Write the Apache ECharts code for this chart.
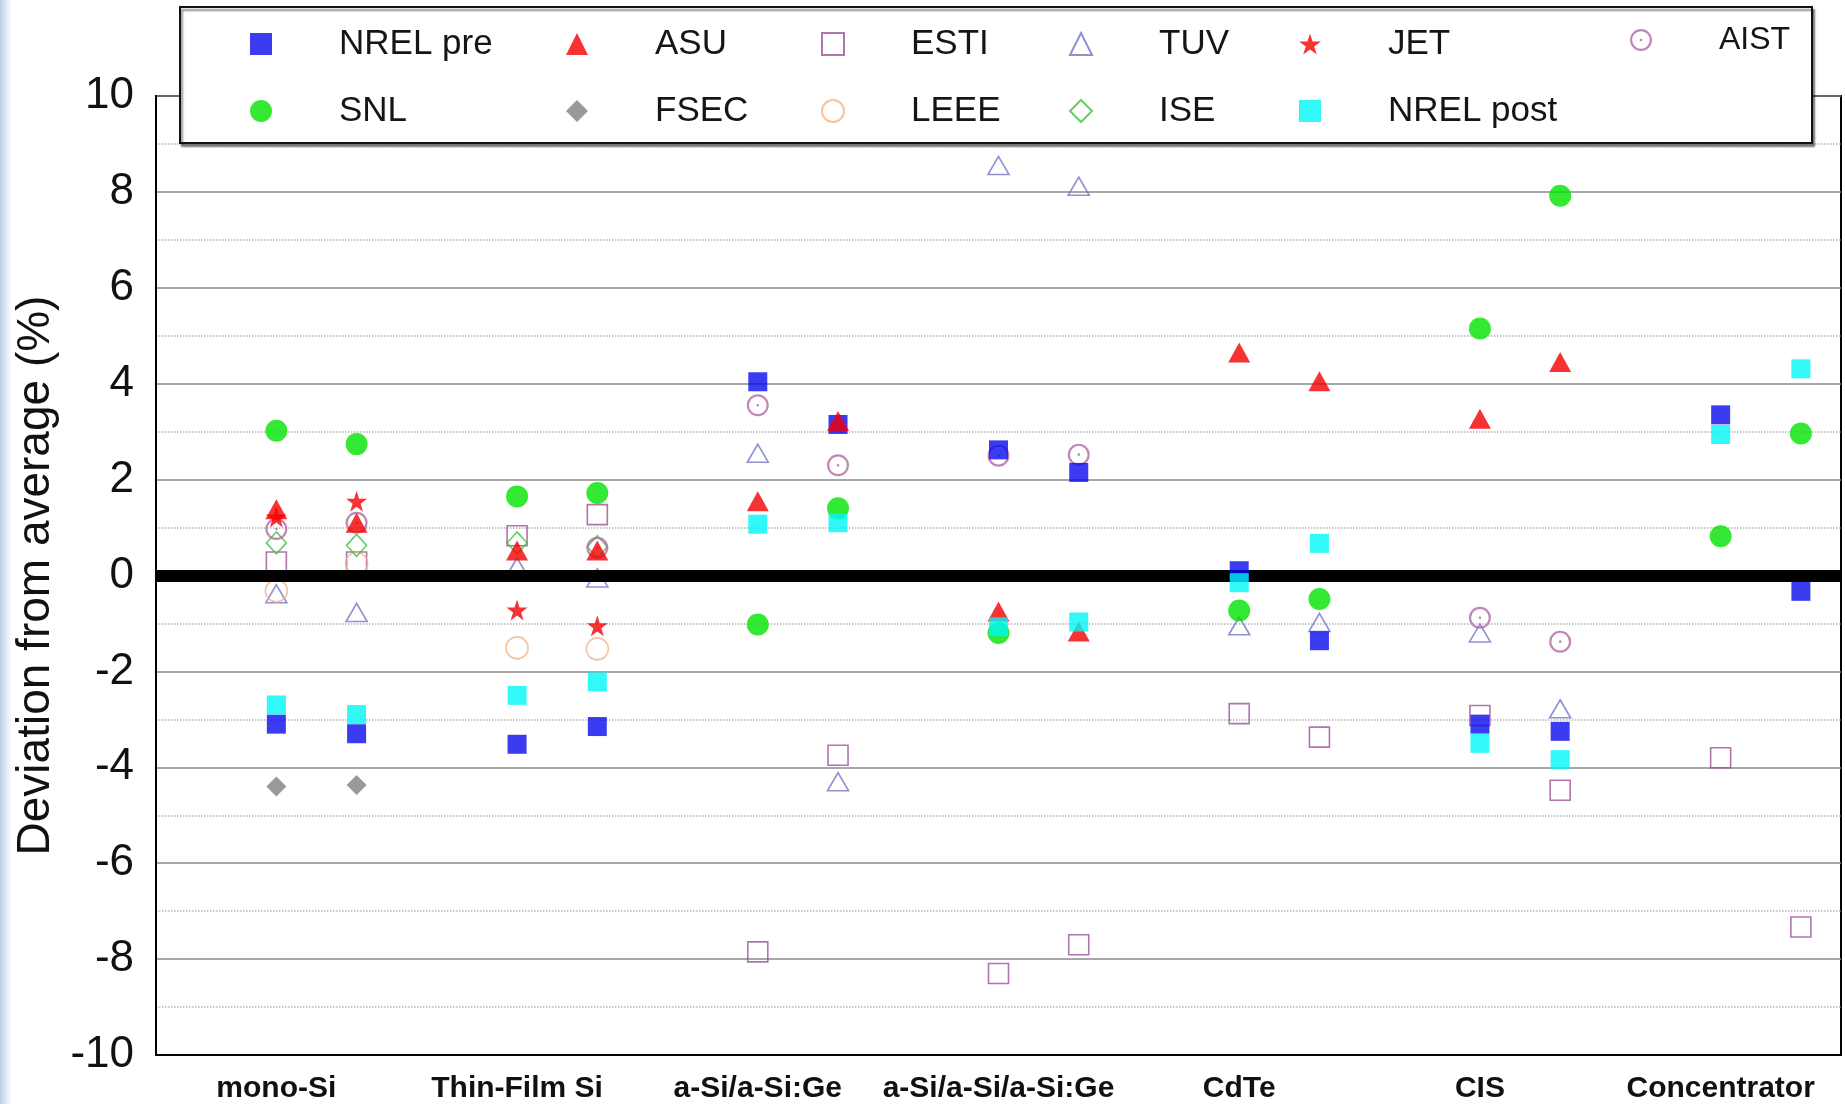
<!DOCTYPE html>
<html>
<head>
<meta charset="utf-8">
<script src="https://cdn.jsdelivr.net/npm/echarts@6/dist/echarts.min.js"></script>
<style>
html,body{margin:0;padding:0;background:#fff;}
body{background:linear-gradient(to right,#b9cde6 0px,#dfe8f3 6px,#ffffff 12px);}
#c{width:1845px;height:1104px;}
</style>
</head>
<body>
<div id="c"></div>
<script>
// Categories (each has two samples)
const categories = ['mono-Si','Thin-Film Si','a-Si/a-Si:Ge','a-Si/a-Si/a-Si:Ge','CdTe','CIS','Concentrator'];
// Values per lab, 14 entries: [cat1 s1, cat1 s2, cat2 s1, cat2 s2, ...]
const nrelPre  = [-3.10,-3.30,-3.52,-3.15, 4.04, 3.15, 2.62, 2.15, 0.10,-1.36,-3.10,-3.25, 3.35,-0.33];
const asu      = [ 1.38, 1.10, 0.52, 0.52, 1.55, 3.22,-0.75,-1.17, 4.65, 4.05, 3.27, 4.45, null, null];
const esti     = [ 0.28, 0.28, 0.83, 1.27,-7.85,-3.75,-8.30,-7.70,-2.88,-3.37,-2.92,-4.48,-3.80,-7.33];
const tuv      = [-0.38,-0.77, 0.18,-0.05, 2.55,-4.30, 8.55, 8.12,-1.05,-0.98,-1.20,-2.78, null, null];
const jet      = [ 1.22, 1.55,-0.72,-1.05, null, null, null, null, null, null, null, null, null, null];
const aist     = [ 0.97, 1.10, null, 0.58, 3.55, 2.30, 2.50, 2.52, null, null,-0.88,-1.38, null, null];
const snl      = [ 3.02, 2.74, 1.65, 1.72,-1.02, 1.40,-1.20, null,-0.73,-0.49, 5.15, 7.92, 0.82, 2.96];
const fsec     = [-4.40,-4.37, null, null, null, null, null, null, null, null, null, null, null, null];
const leee     = [-0.32, 0.25,-1.51,-1.53, null, null, null, null, null, null, null, null, null, null];
const ise      = [ 0.68, 0.63, 0.68, 0.60, null, null, null, null, null, null, null, null, null, null];
const nrelPost = [-2.70,-2.90,-2.50,-2.22, 1.07, 1.10,-1.07,-0.97,-0.15, 0.67,-3.50,-3.84, 2.94, 4.31];
const yTicks = [-10,-8,-6,-4,-2,0,2,4,6,8,10];

const FONT = "'Liberation Sans', Arial, Helvetica, sans-serif";
const STAR = 'path://M50,0 L61.2,34.5 L97.6,34.5 L68.2,55.9 L79.4,90.5 L50,69.1 L20.6,90.5 L31.8,55.9 L2.4,34.5 L38.8,34.5 Z';
const RINGDOT = 'path://M0,10 A10,10 0 1,1 20,10 A10,10 0 1,1 0,10 Z M2,10 A8,8 0 1,0 18,10 A8,8 0 1,0 2,10 Z M8.8,10 A1.2,1.2 0 1,1 11.2,10 A1.2,1.2 0 1,1 8.8,10 Z';

function xPos(i){ return Math.floor(i/2)*3 + 1 + (i%2); }
function pts(arr){ const out=[]; arr.forEach((v,i)=>{ if(v!==null) out.push([xPos(i), v]); }); return out; }

const labs = [
  {name:'ESTI', vals:esti, symbol:'rect', size:20, color:'#9c519a', hollow:true, col:2,row:0},
  {name:'TUV', vals:tuv, symbol:'triangle', size:[21,18], color:'#7474c8', hollow:true, col:3,row:0},
  {name:'LEEE', vals:leee, symbol:'circle', size:22, color:'#f2b485', hollow:true, col:2,row:1},
  {name:'ISE', vals:ise, symbol:'diamond', size:[20,22], color:'#3fc03f', hollow:true, col:3,row:1},
  {name:'AIST', vals:aist, symbol:RINGDOT, size:22, color:'#b06aa8', hollow:false, col:5,row:0},
  {name:'SNL', vals:snl, symbol:'circle', size:22, color:'#00e400', hollow:false, col:0,row:1},
  {name:'FSEC', vals:fsec, symbol:'diamond', size:[20,20], color:'#7f7f7f', hollow:false, col:1,row:1},
  {name:'NREL pre', vals:nrelPre, symbol:'rect', size:19, color:'#0a0aee', hollow:false, col:0,row:0},
  {name:'ASU', vals:asu, symbol:'triangle', size:[22,20], color:'#f20000', hollow:false, col:1,row:0},
  {name:'JET', vals:jet, symbol:STAR, size:21, color:'#f20000', hollow:false, col:4,row:0},
  {name:'NREL post', vals:nrelPost, symbol:'rect', size:19, color:'#00f6f6', hollow:false, col:4,row:1}
];

const colIcon = [261, 577, 832, 1080, 1310, 1641];
const rowY = [44, 111];

const series = labs.map((l, k) => {
  const s = {
    name: l.name, type: 'scatter', data: pts(l.vals),
    symbol: l.symbol, symbolSize: l.size,
    itemStyle: l.hollow ? {color:'rgba(255,255,255,0)', borderColor:l.color, borderWidth:1.6}
                        : {color:l.color, borderWidth:0},
    emphasis: {disabled:true},
    z: 2 + k
  };
  if (k === labs.length - 1) {
    s.markLine = {
      silent: true, symbol: ['none','none'], label: {show:false},
      lineStyle: {color:'#000', width:12, type:'solid'},
      emphasis: {disabled:true},
      data: [{yAxis: 0}]
    };
  }
  return s;
});

const legends = labs.map(l => ({
  data: [l.name],
  left: colIcon[l.col] - 11,
  top: rowY[l.row] - 20 - (l.name === 'AIST' ? 4 : 0),
  itemWidth: 22, itemHeight: 22, padding: 0,
  selectedMode: false, z: 60,
  textStyle: {fontSize: l.name === 'AIST' ? 32 : 35, fontFamily: FONT, color: '#151515', padding: [0,0,0,62], lineHeight: 40}
}));

const chart = echarts.init(document.getElementById('c'), null, {renderer:'canvas'});
chart.setOption({
  animation: false,
  backgroundColor: 'transparent',
  grid: {left:156, right:4, top:96, bottom:48, show:true, backgroundColor:'#fff', borderColor:'#000', borderWidth:2},
  xAxis: {
    type:'value', min:-0.5, max:20.5, interval:0.5,
    axisLine:{show:true, onZero:false, lineStyle:{color:'#000', width:2}},
    axisTick:{show:false}, splitLine:{show:false},
    axisLabel:{
      margin: 19, fontSize: 30, fontWeight: 'bold', fontFamily: FONT, color: '#111',
      formatter: v => { const k = (v - 1) / 3; return (Number.isInteger(k) && k >= 0 && k < categories.length) ? categories[k] : ''; }
    }
  },
  yAxis: {
    type:'value', min:-10, max:10, interval:2,
    name:'Deviation from average (%)', nameLocation:'middle', nameGap:96,
    nameTextStyle:{fontSize:46, fontFamily:FONT, color:'#111'},
    axisLine:{show:true, onZero:false, lineStyle:{color:'#000', width:2}},
    axisTick:{show:false},
    axisLabel:{margin:22, fontSize:44, fontFamily:FONT, color:'#111',
      formatter: v => yTicks.includes(v) ? String(v) : ''},
    splitLine:{show:true, lineStyle:{color:'#8a8a8a', width:1.5}},
    minorTick:{show:false, splitNumber:2},
    minorSplitLine:{show:true, lineStyle:{color:'#b4b4b4', width:1.5, type:'dotted'}}
  },
  legend: legends,
  graphic: [{
    type:'rect', z: 50, silent: true,
    shape:{x:180, y:7, width:1632, height:136},
    style:{fill:'#fff', stroke:'#111', lineWidth:2, shadowBlur:2, shadowOffsetX:2, shadowOffsetY:3, shadowColor:'rgba(0,0,0,0.45)'}
  }],
  series: series
});
</script>
</body>
</html>
